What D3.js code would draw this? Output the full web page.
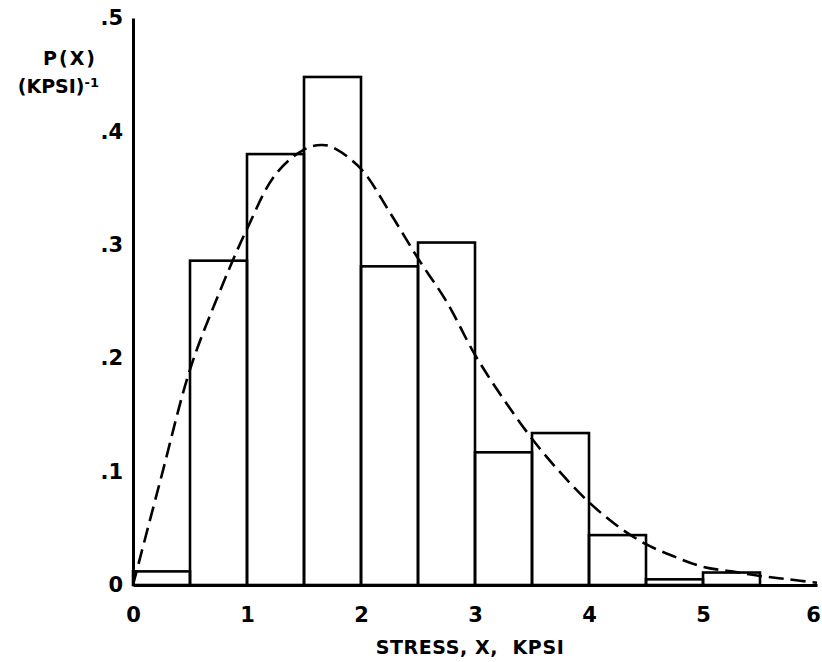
<!DOCTYPE html>
<html>
<head>
<meta charset="utf-8">
<script src="https://cdn.jsdelivr.net/npm/d3@7"></script>
<style>
  body { margin: 0; background: #fff; }
  svg { display: block; }
  text { font-family: "DejaVu Sans", sans-serif; font-weight: bold; fill: #000; }
</style>
</head>
<body>
<svg id="chart"></svg>
<script>
// histogram bins (lower edge, upper edge, height in (KPSI)^-1)
var binStart = [0, 0.5, 1, 1.5, 2, 2.5, 3, 3.5, 4, 4.5, 5];
var binEnd   = [0.5, 1, 1.5, 2, 2.5, 3, 3.5, 4, 4.5, 5, 5.5];
var binValue = [0.012, 0.286, 0.380, 0.448, 0.281, 0.302, 0.117, 0.134, 0.044, 0.005, 0.011];

// dashed fitted density
var curveX = [0, 0.25, 0.5, 0.75, 1, 1.25, 1.5, 1.65, 1.75, 2, 2.25, 2.5, 2.75, 3, 3.25, 3.5, 3.75, 4, 4.25, 4.5, 4.75, 5, 5.25, 5.5, 5.75, 6];
var curveY = [0, 0.096, 0.19, 0.256, 0.314, 0.362, 0.384, 0.388, 0.386, 0.367, 0.329, 0.288, 0.25, 0.203, 0.164, 0.129, 0.099, 0.073, 0.052, 0.036, 0.025, 0.016, 0.012, 0.008, 0.005, 0.002];

var xTicks = [0, 1, 2, 3, 4, 5, 6];
var yTicks = [0, 0.1, 0.2, 0.3, 0.4, 0.5];
var yTickLabels = ["0", ".1", ".2", ".3", ".4", ".5"];

var width = 822, height = 662;

var x = d3.scaleLinear().domain([0, 6]).range([133, 817]);
var y = d3.scaleLinear().domain([0, 0.5]).range([585, 18]);

var svg = d3.select("#chart")
  .attr("width", width)
  .attr("height", height);

svg.append("rect")
  .attr("width", width)
  .attr("height", height)
  .attr("fill", "#fff");

// bars
svg.append("g")
  .selectAll("rect")
  .data(binValue)
  .enter().append("rect")
  .attr("x", function(d, i) { return x(binStart[i]); })
  .attr("y", function(d) { return y(d); })
  .attr("width", function(d, i) { return x(binEnd[i]) - x(binStart[i]); })
  .attr("height", function(d) { return y(0) - y(d); })
  .attr("fill", "none")
  .attr("stroke", "#000")
  .attr("stroke-width", 2.6);

// dashed curve
var line = d3.line()
  .x(function(d, i) { return x(curveX[i]); })
  .y(function(d) { return y(d); })
  .curve(d3.curveCatmullRom);

svg.append("path")
  .datum(curveY)
  .attr("d", line)
  .attr("fill", "none")
  .attr("stroke", "#000")
  .attr("stroke-width", 2.6)
  .attr("stroke-dasharray", "15,7");

// x axis
var xAxis = svg.append("g")
  .attr("transform", "translate(0," + y(0) + ")")
  .call(d3.axisBottom(x).tickValues(xTicks).tickSize(0).tickSizeOuter(0).tickPadding(22)
    .tickFormat(d3.format("d")));
xAxis.select(".domain").attr("stroke-width", 3);
xAxis.selectAll("text").attr("font-size", 21).style("font-family", null);
// last label sits on the right edge, nudge it inside
xAxis.selectAll(".tick").filter(function(d) { return d === 6; })
  .select("text").attr("x", -4);

// y axis
var yAxis = svg.append("g")
  .attr("transform", "translate(" + x(0) + ",0)")
  .call(d3.axisLeft(y).tickValues(yTicks).tickSize(0).tickSizeOuter(0).tickPadding(10)
    .tickFormat(function(d, i) { return yTickLabels[i]; }));
yAxis.select(".domain").attr("stroke-width", 3);
yAxis.selectAll("text").attr("font-size", 21).style("font-family", null);

// axis titles
svg.append("text")
  .attr("x", 470)
  .attr("y", 654)
  .attr("text-anchor", "middle")
  .attr("font-size", 19)
  .attr("letter-spacing", 0.6)
  .style("white-space", "pre")
  .text("STRESS, X,  KPSI");

svg.append("text")
  .attr("x", 97)
  .attr("y", 65)
  .attr("text-anchor", "end")
  .attr("font-size", 19)
  .attr("letter-spacing", 2)
  .text("P(X)");

var yl = svg.append("text")
  .attr("x", 99)
  .attr("y", 93)
  .attr("text-anchor", "end")
  .attr("font-size", 19);
yl.append("tspan").text("(KPSI)");
yl.append("tspan").attr("dy", -6).attr("font-size", 13).text("-1");
</script>
</body>
</html>
